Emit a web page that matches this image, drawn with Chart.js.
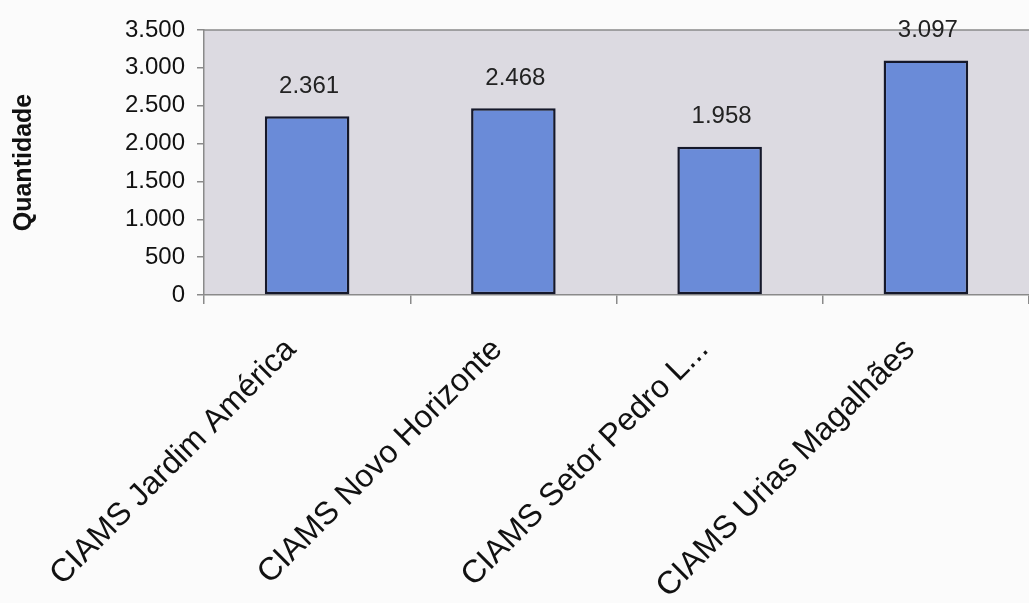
<!DOCTYPE html>
<html>
<head>
<meta charset="utf-8">
<script src="https://cdn.jsdelivr.net/npm/chart.js@4"></script>
<style>
  html, body { margin: 0; padding: 0; background: #fbfbfb; }
  #wrap { width: 1029px; height: 603px; }
</style>
</head>
<body>
<div id="wrap"><canvas id="quantChart"></canvas></div>
<script>

const categories = [
    "CIAMS Jardim América",
    "CIAMS Novo Horizonte",
    "CIAMS Setor Pedro L...",
    "CIAMS Urias Magalhães"
];

const quantities = [2361, 2468, 1958, 3097];

const yMin = 0;
const yMax = 3500;
const yStep = 500;

const yTitle = "Quantidade";

function formatPt(v) {
    return String(v).replace(/\B(?=(\d{3})+(?!\d))/g, ".");
}

// gray plot background + top border
const plotBackground = {
    id: "plotBackground",
    beforeDraw(chart) {
        const { ctx, chartArea: a } = chart;
        ctx.save();
        ctx.fillStyle = "#dcdae1";
        ctx.fillRect(a.left, a.top, a.right - a.left, a.bottom - a.top);
        ctx.strokeStyle = "#8a8a8a";
        ctx.lineWidth = 1.5;
        ctx.beginPath();
        ctx.moveTo(a.left, a.top);
        ctx.lineTo(a.right, a.top);
        ctx.stroke();
        ctx.restore();
    }
};

// value labels above bars
const valueLabels = {
    id: "valueLabels",
    afterDatasetsDraw(chart) {
        const { ctx } = chart;
        const meta = chart.getDatasetMeta(0);
        ctx.save();
        ctx.font = "24px 'Liberation Sans', Arial, sans-serif";
        ctx.fillStyle = "#222";
        ctx.textAlign = "center";
        ctx.textBaseline = "bottom";
        meta.data.forEach((bar, i) => {
            ctx.fillText(
                formatPt(chart.data.datasets[0].data[i]),
                bar.x + 2,
                bar.y - 18
            );
        });
        ctx.restore();
    }
};

new Chart(

    document.getElementById("quantChart"),

    {

        type: "bar",

        data: {

            labels: categories,

            datasets: [{

                label: yTitle,

                data: quantities,

                backgroundColor: "#6a8bd8",

                borderColor: "#15182a",

                borderWidth: 2.5,

                borderSkipped: false,

                barPercentage: 0.41,

                categoryPercentage: 1

            }]

        },

        options: {

            responsive: true,

            maintainAspectRatio: false,

            animation: false,

            layout: {
                padding: { top: 30, right: 0, bottom: 0, left: 9 }
            },

            plugins: {
                legend: { display: false },
                tooltip: { enabled: false }
            },

            scales: {

                x: {
                    grid: {
                        display: true,
                        drawOnChartArea: false,
                        drawTicks: true,
                        tickLength: 9,
                        color: "#8a8a8a",
                        lineWidth: 1.5
                    },
                    border: { color: "#8a8a8a", width: 1.5 },
                    ticks: {
                        color: "#111",
                        minRotation: 45,
                        maxRotation: 45,
                        autoSkip: false,
                        padding: 27,
                        labelOffset: -16,
                        font: { family: "'Liberation Sans', Arial, sans-serif", size: 32 }
                    },
                    afterFit(scale) { scale.height = 308; }
                },

                y: {
                    min: yMin,
                    max: yMax,
                    grid: {
                        display: true,
                        drawOnChartArea: false,
                        drawTicks: true,
                        tickLength: 7,
                        color: "#8a8a8a",
                        lineWidth: 1.5
                    },
                    border: { color: "#8a8a8a", width: 1.5 },
                    ticks: {
                        stepSize: yStep,
                        color: "#111",
                        padding: 12,
                        callback: v => formatPt(v),
                        font: { family: "'Liberation Sans', Arial, sans-serif", size: 24 }
                    },
                    title: {
                        display: true,
                        text: yTitle,
                        color: "#111",
                        padding: { top: 0, bottom: 14 },
                        font: { family: "'Liberation Sans', Arial, sans-serif", size: 25, weight: "bold" }
                    },
                    afterFit(scale) { scale.width = 195; }
                }

            }

        },

        plugins: [plotBackground, valueLabels]

    }

);

</script>
</body>
</html>
